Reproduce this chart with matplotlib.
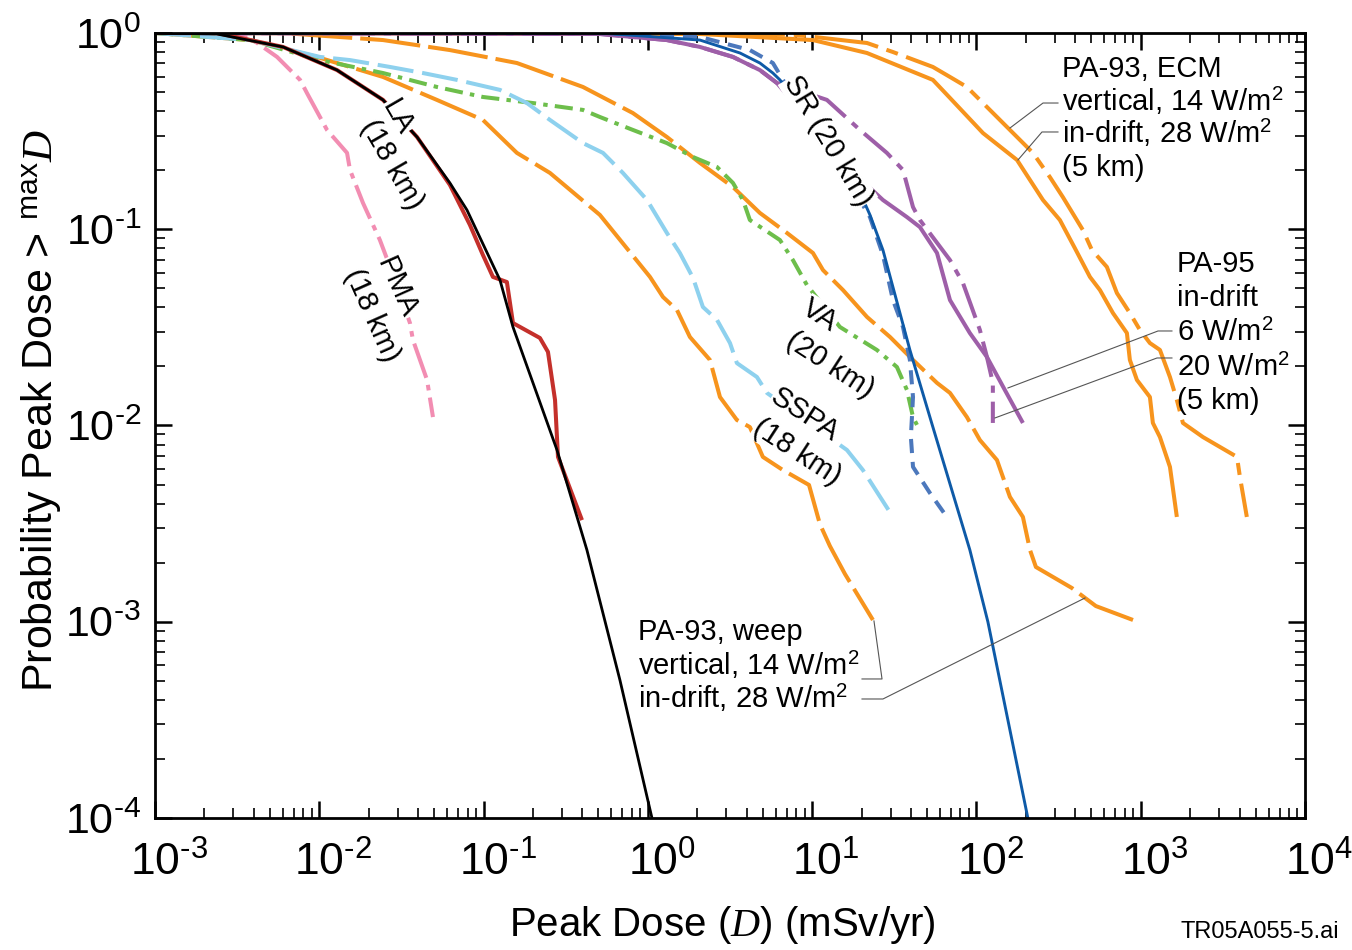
import matplotlib
matplotlib.use("Agg")
import matplotlib.pyplot as plt
import numpy as np
from matplotlib import font_manager
from matplotlib.ticker import LogLocator, NullFormatter, FuncFormatter
from matplotlib.transforms import ScaledTranslation

names = {f.name for f in font_manager.fontManager.ttflist}
narrow = "Liberation Sans Narrow" if "Liberation Sans Narrow" in names else "Liberation Sans"

plt.rcParams["font.family"] = ["Liberation Sans", "DejaVu Sans"]
plt.rcParams["mathtext.fontset"] = "custom"
plt.rcParams["mathtext.rm"] = "Liberation Sans"
plt.rcParams["mathtext.it"] = "Liberation Serif:italic"

# data, stored as log10(dose [mSv/yr]) and log10(probability)
la_sim_logd = [-3.0, -2.623, -2.221, -1.892, -1.612, -1.405, -1.205, -1.083, -1.004, -0.943,
               -0.858, -0.821, -0.657, -0.608, -0.565, -0.547, -0.401]
la_sim_logp = [0, 0, -0.071, -0.189, -0.341, -0.530, -0.774, -0.978, -1.131, -1.243,
               -1.269, -1.478, -1.554, -1.625, -1.870, -2.160, -2.482]

la_fit_logd = [-3.0, -2.623, -2.221, -1.892, -1.612, -1.405, -1.205, -1.101, -0.900, -0.821,
               -0.553, -0.371, -0.170, 0.025]
la_fit_logp = [0, -0.005, -0.071, -0.189, -0.341, -0.530, -0.764, -0.902, -1.259, -1.498,
               -2.125, -2.634, -3.297, -4.0]

pma_logd = [-3.0, -2.623, -2.422, -2.257, -2.117, -2.075, -1.953, -1.831, -1.813, -1.734,
            -1.631, -1.539, -1.448, -1.430, -1.344, -1.308]
pma_logp = [0, 0, -0.025, -0.122, -0.239, -0.306, -0.494, -0.611, -0.698, -0.866,
            -1.055, -1.259, -1.478, -1.564, -1.768, -1.957]

sspa_logd = [-3.0, -2.422, -1.996, -1.813, -1.570, -1.369, -1.162, -0.900, -0.736, -0.596,
             -0.395, -0.273, -0.152, -0.005, 0.116, 0.195, 0.275, 0.335, 0.421, 0.500,
             0.542, 0.664, 0.725, 1.212, 1.309, 1.492]
sspa_logp = [0, -0.036, -0.122, -0.138, -0.173, -0.204, -0.239, -0.290, -0.357, -0.443,
             -0.561, -0.611, -0.713, -0.851, -1.019, -1.121, -1.248, -1.396, -1.462, -1.580,
             -1.682, -1.753, -1.834, -2.125, -2.227, -2.466]

va_logd = [-3.0, -2.422, -1.996, -1.612, -1.284, -1.004, -0.699, -0.395, -0.292, -0.091,
           0.116, 0.275, 0.421, 0.518, 0.579, 0.621, 0.804, 0.883, 0.968, 1.169,
           1.394, 1.516, 1.577, 1.614, 1.638]
va_logp = [0, -0.036, -0.138, -0.204, -0.275, -0.326, -0.357, -0.392, -0.428, -0.494,
           -0.561, -0.632, -0.683, -0.764, -0.851, -0.953, -1.055, -1.157, -1.284, -1.498,
           -1.615, -1.702, -1.819, -1.957, -1.997]

weep_vert_logd = [-3.0, -2.422, -2.014, -1.612, -1.284, -1.004, -0.797, -0.596, -0.292, 0.013,
                  0.092, 0.177, 0.256, 0.378, 0.439, 0.542, 0.621, 0.700, 0.822, 0.981,
                  1.047, 1.108, 1.200, 1.370]
weep_vert_logp = [0, -0.036, -0.122, -0.224, -0.341, -0.443, -0.611, -0.713, -0.927, -1.243,
                  -1.345, -1.411, -1.549, -1.666, -1.855, -1.972, -2.008, -2.160, -2.227, -2.303,
                  -2.502, -2.614, -2.757, -2.991]

weep_drift_logd = [-3.0, -2.221, -1.612, -1.205, -0.797, -0.395, -0.091, 0.116, 0.317, 0.518,
                   0.682, 0.847, 1.005, 1.066, 1.188, 1.334, 1.474, 1.614, 1.760, 1.839,
                   1.942, 2.021, 2.125, 2.204, 2.283, 2.326, 2.362, 2.581, 2.727, 2.953]
weep_drift_logp = [0, 0, -0.036, -0.087, -0.153, -0.275, -0.408, -0.530, -0.662, -0.785,
                   -0.917, -1.019, -1.121, -1.208, -1.310, -1.447, -1.549, -1.666, -1.783, -1.834,
                   -1.957, -2.074, -2.176, -2.364, -2.466, -2.634, -2.721, -2.828, -2.920, -2.991]

sr_fit_logd = [-3.0, -0.292, 0.317, 0.561, 0.682, 0.761, 0.804, 0.987, 1.230, 1.352,
               1.431, 1.595, 1.735, 1.960, 2.070, 2.313]
sr_fit_logp = [0, 0, -0.036, -0.102, -0.153, -0.204, -0.239, -0.443, -0.698, -0.927,
               -1.106, -1.615, -2.008, -2.634, -3.001, -4.0]

sr_sim_logd = [-3.0, -0.292, 0.317, 0.621, 0.761, 0.987, 1.218, 1.352, 1.431, 1.492,
               1.553, 1.595, 1.614, 1.601, 1.614, 1.717, 1.820]
sr_sim_logp = [0, 0, -0.020, -0.087, -0.153, -0.469, -0.749, -0.938, -1.131, -1.361,
               -1.498, -1.666, -1.855, -2.059, -2.211, -2.344, -2.466]

pa95_6_logd = [-3.0, -0.292, 0.116, 0.317, 0.518, 0.682, 0.786, 1.090, 1.291, 1.455,
               1.553, 1.614, 1.656, 1.839, 1.918, 2.021, 2.064, 2.100, 2.100]
pa95_6_logp = [0, -0.005, -0.036, -0.071, -0.122, -0.189, -0.255, -0.341, -0.494, -0.611,
               -0.698, -0.887, -0.953, -1.157, -1.274, -1.513, -1.651, -1.783, -1.987]

pa95_20_logd = [-3.0, -0.292, 0.116, 0.317, 0.518, 0.682, 0.786, 0.926, 1.169, 1.431,
                1.577, 1.656, 1.760, 1.839, 1.960, 2.064, 2.173, 2.283]
pa95_20_logp = [0, -0.005, -0.036, -0.071, -0.122, -0.189, -0.255, -0.392, -0.647, -0.851,
                -0.938, -0.989, -1.121, -1.361, -1.529, -1.651, -1.819, -1.987]

ecm_vert_logd = [-3.0, 0.317, 0.907, 1.334, 1.492, 1.735, 1.839, 1.942, 2.125, 2.204,
                 2.344, 2.447, 2.526, 2.648, 2.703, 2.794, 2.855, 2.934, 2.995, 3.056,
                 3.117, 3.178, 3.220, 3.257, 3.379, 3.586, 3.604, 3.646]
ecm_vert_logp = [0, 0, -0.010, -0.051, -0.097, -0.173, -0.224, -0.275, -0.428, -0.494,
                 -0.611, -0.734, -0.836, -1.004, -1.106, -1.192, -1.325, -1.427, -1.513, -1.580,
                 -1.615, -1.753, -1.870, -1.987, -2.059, -2.160, -2.262, -2.466]

ecm_drift_logd = [-3.0, 0.317, 1.005, 1.334, 1.735, 1.839, 2.040, 2.247, 2.326, 2.405,
                  2.508, 2.599, 2.691, 2.752, 2.831, 2.916, 2.934, 2.977, 3.056, 3.074,
                  3.117, 3.178, 3.220]
ecm_drift_logp = [0, -0.005, -0.036, -0.102, -0.239, -0.331, -0.510, -0.647, -0.749, -0.851,
                  -0.953, -1.096, -1.243, -1.310, -1.427, -1.529, -1.666, -1.768, -1.855, -1.987,
                  -2.059, -2.211, -2.466]

x_major = [1e-3, 1e-2, 1e-1, 1e0, 1e1, 1e2, 1e3, 1e4]
y_major = [1e-4, 1e-3, 1e-2, 1e-1, 1e0]

orange = "#F7941D"

fig = plt.figure(figsize=(13.52, 9.5), dpi=100)
ax = fig.add_axes([0.11464, 0.13895, 0.85059, 0.82632])


def curve(logd, logp, color, lw=2.9, dashes=None):
    line, = ax.plot(10 ** np.array(logd), 10 ** np.array(logp), color=color, lw=lw,
                    solid_capstyle="butt", dash_capstyle="butt")
    if dashes:
        line.set_dashes(dashes)
    return line


curve(weep_vert_logd, weep_vert_logp, orange, dashes=(15, 2))
curve(weep_drift_logd, weep_drift_logp, orange, dashes=(15, 2))
curve(ecm_drift_logd, ecm_drift_logp, orange)
curve(ecm_vert_logd, ecm_vert_logp, orange, dashes=(16, 2.2, 3, 2.2))
curve(va_logd, va_logp, "#6DBE4B", dashes=(4.5, 1.8, 1.1, 1.8))
curve(sspa_logd, sspa_logp, "#8ED1EE", dashes=(9, 2.2))
curve(pma_logd, pma_logp, "#F28DB2", dashes=(9, 1.8, 1.4, 1.8))
curve(pa95_6_logd, pa95_6_logp, "#9E5FA8", dashes=(9, 2.2, 1.8, 2.2))
curve(pa95_20_logd, pa95_20_logp, "#9E5FA8")
curve(sr_sim_logd, sr_sim_logp, "#4C78BC", dashes=(3.5, 2.2))
curve(sr_fit_logd, sr_fit_logp, "#0E5AA7", lw=2.1)
curve(la_sim_logd, la_sim_logp, "#C4302B")
curve(la_fit_logd, la_fit_logp, "black", lw=2.0)


def pow10(v, pos):
    e = int(round(np.log10(v)))
    return r"$\mathdefault{10^{\text{%d}}}$" % e


ax.set_xscale("log")
ax.set_yscale("log")
ax.set_xlim(1e-3, 1e4)
ax.set_ylim(1e-4, 1)
ax.set_xticks(x_major)
ax.set_yticks(y_major)
ax.xaxis.set_minor_locator(LogLocator(base=10, subs=np.arange(2, 10), numticks=100))
ax.yaxis.set_minor_locator(LogLocator(base=10, subs=np.arange(2, 10), numticks=100))
ax.xaxis.set_minor_formatter(NullFormatter())
ax.yaxis.set_minor_formatter(NullFormatter())
ax.xaxis.set_major_formatter(FuncFormatter(pow10))
ax.yaxis.set_major_formatter(FuncFormatter(pow10))
ax.tick_params(which="both", direction="in", top=True, right=True, labelsize=31)
ax.tick_params(axis="x", labelsize=32)
ax.tick_params(which="major", length=12, width=1.8)
ax.tick_params(which="minor", length=7, width=1.2)
ax.tick_params(axis="x", pad=17)
ax.tick_params(axis="y", pad=10)
for s in ax.spines.values():
    s.set_linewidth(2)

# shift x tick labels so the "10" sits on the tick and the exponent hangs right
shift = ScaledTranslation(0.14, 0, fig.dpi_scale_trans)
for lbl in ax.get_xticklabels():
    lbl.set_transform(lbl.get_transform() + shift)

fig.text(0.534, 0.026, r"Peak Dose ($\mathit{D}$) (mSv/yr)", fontsize=29, ha="center", va="center")
fig.text(0.030, 0.568, r"Probability Peak Dose > $^{\mathregular{max}}\mathit{D}$", fontsize=31,
         rotation=90, ha="center", va="center")
fig.text(0.873, 0.019, "TR05A055-5.ai", fontsize=17, family=narrow, ha="left", va="center")

# curve labels
knock = dict(facecolor="white", edgecolor="none", pad=0.3)
lab = dict(transform=ax.transAxes, fontsize=21, ha="center", va="center", rotation_mode="anchor")
ax.text(0.2104, 0.8930, "LA", rotation=-60, bbox=knock, **lab)
ax.text(0.2061, 0.8318, "(18 km)", rotation=-60, **lab)
ax.text(0.2104, 0.6752, "PMA", rotation=-66, bbox=knock, **lab)
ax.text(0.1887, 0.6408, "(18 km)", rotation=-66, **lab)
ax.text(0.5852, 0.8624, "SR (20 km)", rotation=-59, bbox=knock, **lab)
ax.text(0.5783, 0.6408, "VA", rotation=-33, bbox=knock, **lab)
ax.text(0.5870, 0.5771, "(20 km)", rotation=-33, bbox=knock, **lab)
ax.text(0.5652, 0.5134, "SSPA", rotation=-33, bbox=knock, **lab)
ax.text(0.5583, 0.4662, "(18 km)", rotation=-33, bbox=knock, **lab)

blk = dict(transform=ax.transAxes, fontsize=21, ha="left", va="baseline")
wm = r"W/m$^\mathregular{2}$"
ecm_lines = ["PA-93, ECM", "vertical, 14 " + wm, "in-drift, 28 " + wm, "(5 km)"]
for t, fy in zip(ecm_lines, [0.9439, 0.9006, 0.8599, 0.8178]):
    ax.text(0.7887, fy, t, **blk)
pa95_lines = ["PA-95", "in-drift", "6 " + wm, "20 " + wm, "(5 km)"]
for t, fy in zip(pa95_lines, [0.6955, 0.6522, 0.6076, 0.5631, 0.5210]):
    ax.text(0.8887, fy, t, **blk)
weep_lines = ["PA-93, weep", "vertical, 14 " + wm, "in-drift, 28 " + wm]
for t, fy in zip(weep_lines, [0.2268, 0.1822, 0.1401]):
    ax.text(0.4200, fy, t, **blk)

# leader lines
lead = dict(transform=ax.transAxes, color="#555555", lw=0.8)
ax.plot([0.7852, 0.7722, 0.7435], [0.9108, 0.9108, 0.8790], **lead)
ax.plot([0.7852, 0.7713, 0.7504], [0.8739, 0.8739, 0.8382], **lead)
ax.plot([0.8843, 0.8722, 0.7417], [0.6204, 0.6204, 0.5478], **lead)
ax.plot([0.8843, 0.8713, 0.7304], [0.5860, 0.5860, 0.5096], **lead)
ax.plot([0.6148, 0.6322, 0.6252], [0.1771, 0.1771, 0.2510], **lead)
ax.plot([0.6148, 0.6330, 0.8087], [0.1516, 0.1516, 0.2803], **lead)

fig.savefig("out.png", dpi=100)
